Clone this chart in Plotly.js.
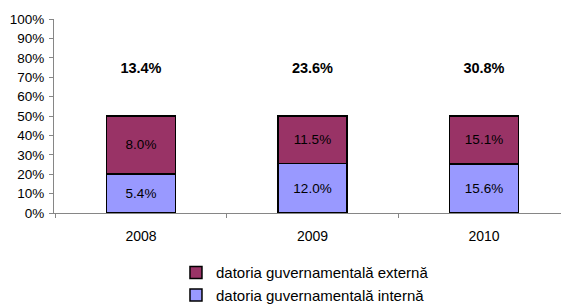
<!DOCTYPE html>
<html>
<head>
<meta charset="utf-8">
<script src="https://cdn.plot.ly/plotly-3.0.1.min.js"></script>
<style>html,body{margin:0;padding:0;background:#fff;}#chart{width:561px;height:304px;}</style>
</head>
<body>
<div id="chart"></div>
<script>
var years = ['2008', '2009', '2010'];
var internal = [5.4, 12.0, 15.6];
var external = [8.0, 11.5, 15.1];
var totals = [13.4, 23.6, 30.8];
var nameExternal = 'datoria guvernamentală externă';
var nameInternal = 'datoria guvernamentală internă';
var yTicks = [0, 10, 20, 30, 40, 50, 60, 70, 80, 90, 100];

function pct(v) { return v.toFixed(1) + '%'; }

var common = {
  type: 'bar',
  x: years,
  width: 0.4,
  textposition: 'inside',
  insidetextanchor: 'middle',
  hoverinfo: 'skip',
  constraintext: 'none'
};

var traces = [
  Object.assign({}, common, {
    name: nameInternal,
    y: internal,
    text: internal.map(pct),
    textfont: {family: 'Liberation Sans, Arial, sans-serif', size: 13.5, color: '#000'},
    marker: {color: '#9999FF', line: {color: '#000', width: 1.5}},
    legendrank: 2
  }),
  Object.assign({}, common, {
    name: nameExternal,
    y: external,
    text: external.map(pct),
    textfont: {family: 'Liberation Sans, Arial, sans-serif', size: 13.5, color: '#000'},
    marker: {color: '#993366', line: {color: '#000', width: 1.5}},
    legendrank: 1
  }),
  Object.assign({}, common, {
    name: 'total',
    y: totals,
    text: totals.map(function (v) { return '<b>' + pct(v) + '</b>'; }),
    textfont: {family: 'Liberation Sans, Arial, sans-serif', size: 14.5, color: '#000'},
    marker: {color: 'rgba(0,0,0,0)', line: {width: 0}},
    showlegend: false
  })
];

var layout = {
  width: 561,
  height: 304,
  margin: {l: 54, r: 0, t: 19, b: 91, pad: 0, autoexpand: false},
  paper_bgcolor: '#fff',
  plot_bgcolor: '#fff',
  barmode: 'stack',
  barnorm: 'percent',
  font: {family: 'Liberation Sans, Arial, sans-serif', size: 13, color: '#000'},
  xaxis: {
    type: 'category',
    range: [-0.5073, 2.449],
    showline: true,
    linecolor: '#868686',
    linewidth: 1,
    ticks: 'outside',
    tickson: 'boundaries',
    ticklen: 4,
    tickcolor: '#868686',
    ticklabelstandoff: 10,
    showgrid: false,
    zeroline: false,
    tickfont: {size: 14},
    fixedrange: true
  },
  yaxis: {
    range: [0, 100],
    tickvals: yTicks,
    ticktext: yTicks.map(function (v) { return v + '%'; }),
    showline: true,
    linecolor: '#868686',
    linewidth: 1,
    ticks: 'outside',
    ticklen: 4,
    tickcolor: '#868686',
    ticklabelstandoff: 2,
    showgrid: false,
    zeroline: false,
    tickfont: {size: 13.5},
    fixedrange: true
  },
  showlegend: true,
  legend: {
    x: 0.2406,
    xanchor: 'left',
    y: -0.2235,
    yanchor: 'top',
    traceorder: 'normal',
    font: {size: 15},
    bgcolor: 'rgba(0,0,0,0)',
    borderwidth: 0
  }
};

Plotly.newPlot('chart', traces, layout, {displayModeBar: false, staticPlot: true});
</script>
</body>
</html>
